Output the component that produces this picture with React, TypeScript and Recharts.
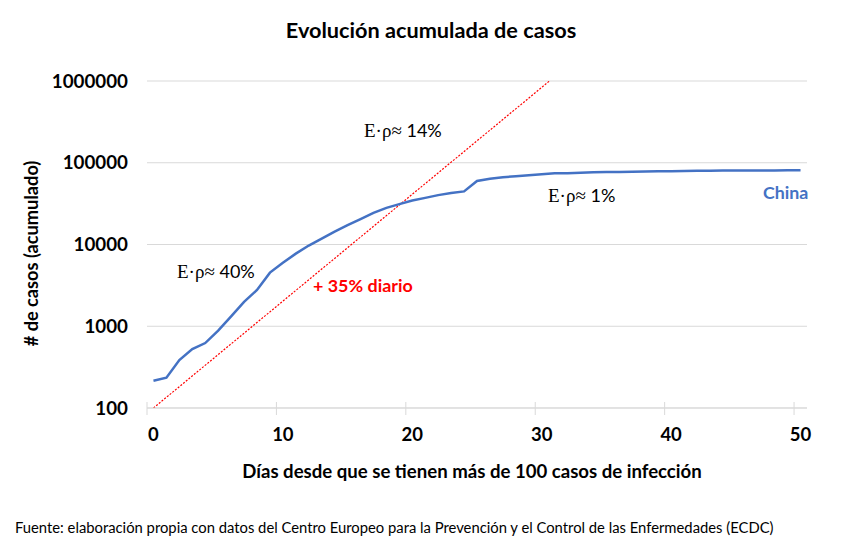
import React from 'react';
import { LineChart, Line, XAxis, YAxis, CartesianGrid } from 'recharts';

const days = [
  0, 1, 2, 3, 4, 5, 6, 7, 8, 9, 10, 11, 12, 13, 14, 15, 16, 17, 18, 19, 20,
  21, 22, 23, 24, 25, 26, 27, 28, 29, 30, 31, 32, 33, 34, 35, 36, 37, 38, 39, 40,
  41, 42, 43, 44, 45, 46, 47, 48, 49, 50,
];
const chinaCases = [
  216, 235, 386, 526, 623, 882, 1323, 1988, 2775, 4528, 5994, 7734, 9714, 11809,
  14399, 17211, 20448, 24320, 28018, 31161, 34546, 37198, 40171, 42638, 44653,
  59804, 63851, 66492, 68500, 70548, 72436, 74185, 74576, 75465, 76288, 76936,
  77150, 77658, 78064, 78497, 78824, 79251, 79824, 80026, 80151, 80270, 80409,
  80552, 80651, 80695, 80735,
];
const trendDays = [0, 30.6];
const trendCases = [100, 1000000];
const xTickLabels = [0, 10, 20, 30, 40, 50];
const xTickMarks = [-0.5, 9.5, 19.5, 29.5, 39.5, 49.5];
const yTicks = [100, 1000, 10000, 100000, 1000000];

const chinaData = days.map((d, i) => ({ d, v: chinaCases[i] }));
const trendData = trendDays.map((d, i) => ({ d, v: trendCases[i] }));
const allXTicks = [...xTickMarks, ...xTickLabels].sort((a, b) => a - b);

const FONT = 'Lato, "Open Sans", sans-serif';
const SERIF = '"Liberation Serif", "DejaVu Serif", serif';
const GRID = '#d9d9d9';

const XTick = (props: any) => {
  const { x, y, payload } = props;
  const v = payload.value;
  if (xTickLabels.includes(v)) {
    return (
      <text x={x} y={y + 20} dy="0.71em" textAnchor="middle" fill="#000"
        style={{ fontFamily: FONT, fontWeight: 700, fontSize: 18.5 }}>
        {v}
      </text>
    );
  }
  return <line x1={x} x2={x} y1={y - 6} y2={y + 7} stroke={GRID} strokeWidth={1} />;
};

const Rho = ({ x, y, pct }: { x: number; y: number; pct: string }) => (
  <text x={x} y={y} fill="#000">
    <tspan style={{ fontFamily: SERIF, fontSize: 19 }}>E·ρ≈</tspan>
    <tspan style={{ fontFamily: FONT, fontSize: 18 }}> {pct}</tspan>
  </text>
);

export default function App() {
  return (
    <div style={{ position: 'absolute', left: 0, top: 0, width: 867, height: 554, background: '#fff' }}>
      <LineChart width={867} height={554} data={chinaData}
        margin={{ top: 81, right: 60, bottom: 116, left: 87 }}>
        <CartesianGrid horizontal vertical={false} stroke={GRID} strokeWidth={1} />
        <XAxis dataKey="d" type="number" domain={[-0.5, 50.5]} ticks={allXTicks}
          interval={0} height={30} tickSize={0} tickMargin={0} tickLine={false}
          axisLine={{ stroke: GRID }} tick={<XTick />} allowDataOverflow />
        <YAxis type="number" scale="log" domain={[100, 1000000]} ticks={yTicks}
          interval={0} width={60} tickSize={0} tickMargin={19} axisLine={false} tickLine={false}
          allowDataOverflow
          tick={{ fill: '#000', fontFamily: FONT, fontWeight: 700, fontSize: 18.8 }} />
        <Line data={trendData} dataKey="v" type="linear" stroke="#FF0000" strokeWidth={1.2}
          strokeDasharray="2 1.5" dot={false} activeDot={false} isAnimationActive={false} />
        <Line data={chinaData} dataKey="v" type="linear" stroke="#4472C4" strokeWidth={2.5}
          dot={false} activeDot={false} isAnimationActive={false} />
      </LineChart>
      <svg width={867} height={554} style={{ position: 'absolute', left: 0, top: 0, pointerEvents: 'none' }}>
        <text x={431} y={38} textAnchor="middle" fill="#000"
          style={{ fontFamily: FONT, fontWeight: 700, fontSize: 21.7 }}>
          Evolución acumulada de casos
        </text>
        <text x={0} y={0} transform="translate(38,253.5) rotate(-90)" textAnchor="middle" fill="#000"
          style={{ fontFamily: FONT, fontWeight: 700, fontSize: 18.2 }}>
          # de casos (acumulado)
        </text>
        <text x={472} y={478} textAnchor="middle" fill="#000"
          style={{ fontFamily: FONT, fontWeight: 700, fontSize: 18.6 }}>
          Días desde que se tienen más de 100 casos de infección
        </text>
        <text x={15} y={533} fill="#000" style={{ fontFamily: FONT, fontSize: 14.8 }}>
          Fuente: elaboración propia con datos del Centro Europeo para la Prevención y el Control de las Enfermedades (ECDC)
        </text>
        <Rho x={177} y={278} pct="40%" />
        <Rho x={364} y={136.7} pct="14%" />
        <Rho x={548} y={202} pct="1%" />
        <text x={313} y={292} fill="#FF0000" style={{ fontFamily: FONT, fontWeight: 700, fontSize: 17.9 }}>
          + 35% diario
        </text>
        <text x={763} y={199} fill="#4472C4" style={{ fontFamily: FONT, fontWeight: 700, fontSize: 17.8 }}>
          China
        </text>
      </svg>
    </div>
  );
}
